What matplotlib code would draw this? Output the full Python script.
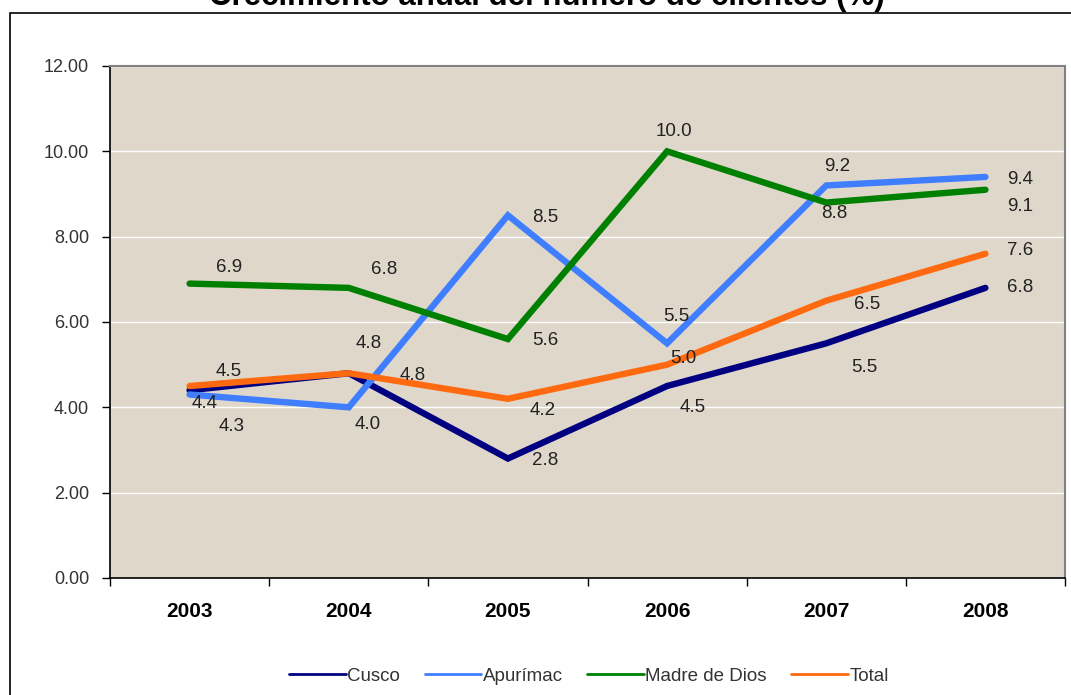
import matplotlib
matplotlib.use("Agg")
import matplotlib.pyplot as plt
from matplotlib.patches import Rectangle
import numpy as np

plt.rcParams['font.family'] = ['Liberation Sans', 'DejaVu Sans']

# data
years = ["2003", "2004", "2005", "2006", "2007", "2008"]
cusco = [4.4, 4.8, 2.8, 4.5, 5.5, 6.8]
apurimac = [4.3, 4.0, 8.5, 5.5, 9.2, 9.4]
madre = [6.9, 6.8, 5.6, 10.0, 8.8, 9.1]
total = [4.5, 4.8, 4.2, 5.0, 6.5, 7.6]

series = {"Cusco": cusco, "Apurímac": apurimac, "Madre de Dios": madre, "Total": total}
colors = {"Cusco": "#000080", "Apurímac": "#3F7FFF", "Madre de Dios": "#008000", "Total": "#FF6A10"}

# label offsets in pixels (dx, dy), how the labels were placed in the original
offsets = {
  "Cusco": [(15, -13), (20, 30), (37, -2), (26, -22), (38, -24), (35, 0)],
  "Apurímac": [(42, -32), (19, -17), (37, -2), (9, 27), (11, 19), (35, -3)],
  "Madre de Dios": [(39, 16), (35, 18), (37, -1), (7, 20), (8, -11), (35, -17)],
  "Total": [(39, 15), (64, -2), (35, -12), (16, 6), (41, -4), (35, 3)],
}

W, H = 1071, 695
fig = plt.figure(figsize=(W/100, H/100), dpi=100)
fig.patch.set_facecolor("white")

# outer chart frame (runs off the right and bottom edge)
fig.patches.append(Rectangle((9.5/W, -0.1), 1.2, 1 - 13/H + 0.1, transform=fig.transFigure,
                             fill=False, edgecolor="black", linewidth=1.2, clip_on=False))

fig.text(547/W, 1 - 5/H, "Crecimiento anual del número de clientes (%)", ha="center",
         va="baseline", fontsize=22.5, fontweight="bold")

ax = fig.add_axes([110/W, (H-578)/H, (1065-110)/W, (578-66)/H])
ax.set_facecolor("#DFD7CA")
x = np.arange(len(years))

for name, vals in series.items():
  ax.plot(x, vals, color=colors[name], linewidth=4.6, label=name, solid_capstyle="round",
          solid_joinstyle="miter", zorder=3)
  for i, v in enumerate(vals):
    dx, dy = offsets[name][i]
    ax.annotate("%.1f" % v, (x[i], v), xytext=(dx, dy), textcoords="offset pixels",
                ha="center", va="center", fontsize=13.5, color="#222222", zorder=4)

ax.set_xlim(-0.5, len(years) - 0.5)
ax.set_ylim(0, 12)
ax.set_yticks(np.arange(0, 13, 2))
ax.set_yticklabels(["%.2f" % v for v in np.arange(0, 13, 2)])
ax.grid(axis="y", color="white", linewidth=1.0)
ax.set_axisbelow(True)

ax.set_xticks(x)
ax.set_xticklabels(years, fontweight="bold", fontsize=15)
ax.set_xticks(np.arange(-0.5, len(years)), minor=True)
ax.tick_params(axis="x", which="major", length=0, pad=17)
ax.tick_params(axis="x", which="minor", length=6, width=1, direction="out")
ax.tick_params(axis="y", length=6, width=1, direction="out", pad=9, labelsize=13,
               labelcolor="#333333")

for s in ["left", "bottom"]:
  ax.spines[s].set_color("black")
  ax.spines[s].set_linewidth(1.2)
for s in ["top", "right"]:
  ax.spines[s].set_color("#808080")
  ax.spines[s].set_linewidth(1.5)

leg = fig.legend(loc="center", bbox_to_anchor=(589/W, 1 - 676/H), ncol=4, frameon=False,
                 fontsize=13.5, handlelength=3.0, columnspacing=1.3, handletextpad=0.1)
for line in leg.get_lines():
  line.set_linewidth(2)
for t in leg.get_texts():
  t.set_color("#333333")

plt.savefig("out.png", dpi=100)
